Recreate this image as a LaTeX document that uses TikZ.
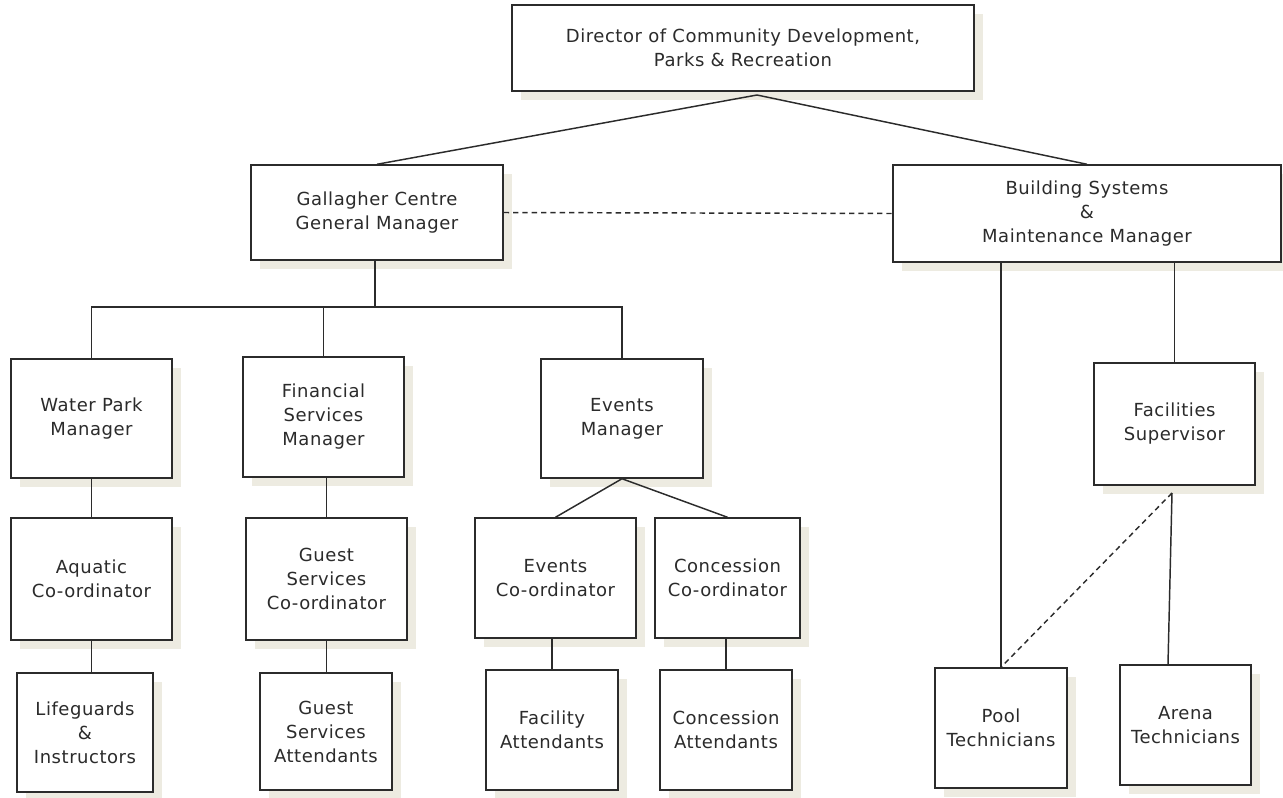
\documentclass[tikz,border=0pt]{standalone}
\usepackage{fontspec}
\setmainfont{DejaVu Sans}[LetterSpace=3]
\usetikzlibrary{shadows}
\definecolor{shade}{HTML}{EDEBE1}
\definecolor{ink}{HTML}{2B2B2B}

\begin{document}
\begin{tikzpicture}[x=0.75pt, y=-0.75pt,
  box/.style={draw=ink, line width=1.1pt, fill=white, align=center, text=ink,
    font=\fontsize{13.5}{18}\selectfont, inner sep=0pt,
    drop shadow={shadow xshift=6.5pt, shadow yshift=-6.5pt, fill=shade, opacity=1, draw=none}},
  wh/.style 2 args={minimum width=#1*0.75pt, minimum height=#2*0.75pt},
  link/.style={draw=ink, line width=1.1pt},
  dotted link/.style={link, dashed, dash pattern=on 4pt off 3pt}]

\useasboundingbox (0,0) rectangle (1283,797);

% Top level
\node[box, wh={462}{86}] (dir) at (743,48) {Director of Community Development,\\Parks \& Recreation};

% Managers
\node[box, wh={252}{95}] (gcgm) at (377,212.5) {Gallagher Centre\\General Manager};
\node[box, wh={388}{97}] (bsmm) at (1087,213.5) {Building Systems\\\&\\Maintenance Manager};

\node[box, wh={161}{119}] (wpm) at (91.5,418.5) {Water Park\\Manager};
\node[box, wh={161}{120}] (fsm) at (323.5,417) {Financial\\Services\\Manager};
\node[box, wh={162}{119}] (evm) at (622,418.5) {Events\\Manager};
\node[box, wh={161}{122}] (fsup) at (1174.5,424) {Facilities\\Supervisor};

% Co-ordinators
\node[box, wh={161}{122}] (aqc) at (91.5,579) {Aquatic\\Co-ordinator};
\node[box, wh={161}{122}] (gsc) at (326.5,579) {Guest\\Services\\Co-ordinator};
\node[box, wh={161}{120}] (evc) at (555.5,578) {Events\\Co-ordinator};
\node[box, wh={145}{120}] (conc) at (727.5,578) {Concession\\Co-ordinator};

% Staff
\node[box, wh={136}{119}] (lif) at (85,732.5) {Lifeguards\\\&\\Instructors};
\node[box, wh={132}{117}] (gsa) at (326,731.5) {Guest\\Services\\Attendants};
\node[box, wh={132}{120}] (fat) at (552,730) {Facility\\Attendants};
\node[box, wh={132}{120}] (cat) at (726,730) {Concession\\Attendants};
\node[box, wh={132}{120}] (ptec) at (1001,728) {Pool\\Technicians};
\node[box, wh={131}{120}] (atec) at (1185.5,725) {Arena\\Technicians};

% Join points
\coordinate (dirjoin) at (757,95);
\coordinate (gbar) at (375,307);
\coordinate (fsjoin) at (1172,493);

% Director links
\draw[link] (gcgm.north) -- (dirjoin) -- (bsmm.north);
\draw[dotted link] (gcgm.east) -- (bsmm.west);

% Gallagher branch
\draw[link] (gcgm.south -| gbar) -- (gbar);
\draw[link] (wpm.north) |- (gbar) -| (evm.north);
\draw[link] (fsm.north) -- (fsm.north |- gbar);
\draw[link] (wpm.south) -- (aqc.north);
\draw[link] (aqc.south) -- (lif.north -| aqc.south);
\draw[link] (fsm.south -| gsc.north) -- (gsc.north);
\draw[link] (gsc.south) -- (gsa.north -| gsc.south);
\draw[link] (evc.north) -- (evm.south) -- (conc.north);
\draw[link] (fat.north) -- (fat.north |- evc.south);
\draw[link] (cat.north) -- (cat.north |- conc.south);

% Building branch
\draw[link] (bsmm.south -| ptec.north) -- (ptec.north);
\draw[link] (bsmm.south -| fsup.north) -- (fsup.north);
\draw[link] (fsjoin) -- (atec.north -| 1168,0);
\draw[dotted link] (fsjoin) -- (ptec.north);

\end{tikzpicture}
\end{document}
